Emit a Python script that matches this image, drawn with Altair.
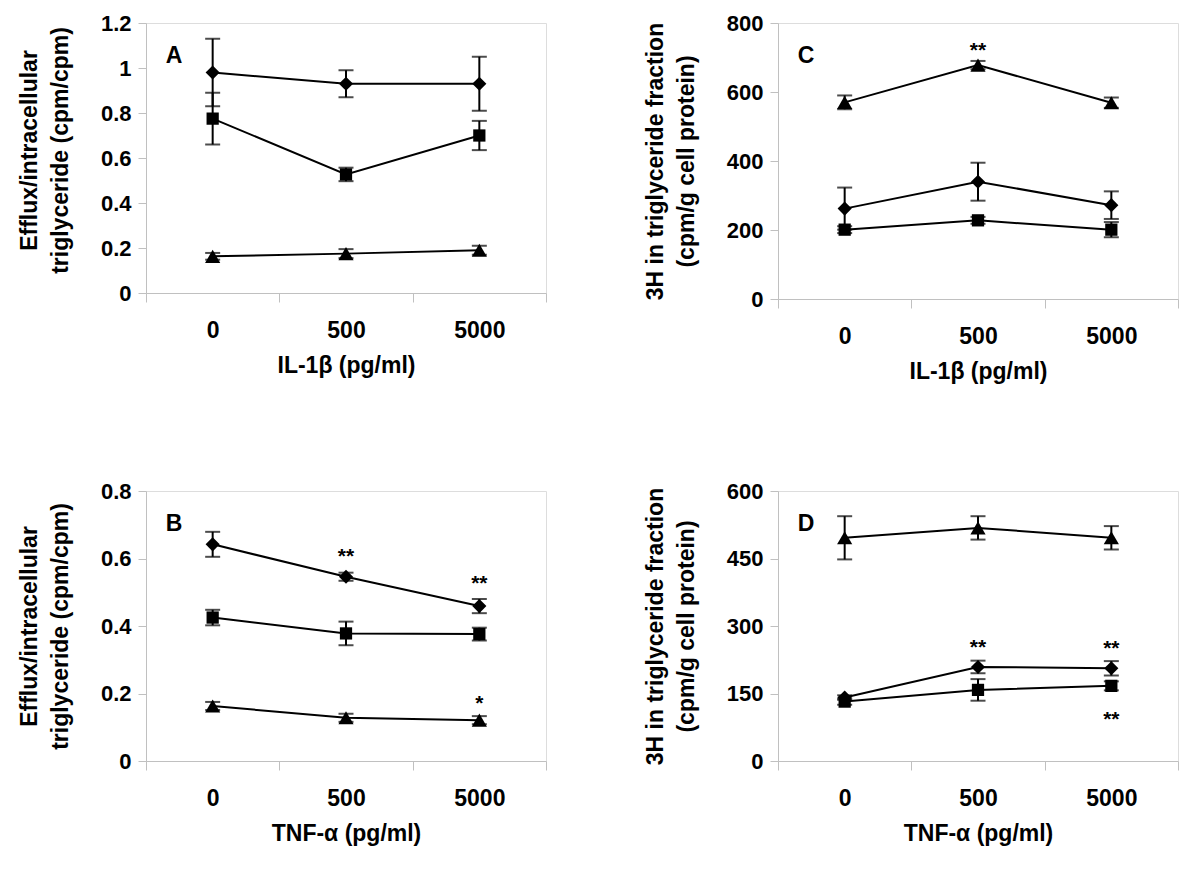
import altair as alt
import pandas as pd

doses = ["0", "500", "5000"]
series = ["diamond", "square", "triangle"]

# Panel A: IL-1beta, efflux / intracellular triglyceride
a_diamond = [0.98, 0.93, 0.93]
a_diamond_se = [0.15, 0.06, 0.12]
a_square = [0.775, 0.527, 0.70]
a_square_se = [0.115, 0.03, 0.065]
a_triangle = [0.163, 0.175, 0.19]
a_triangle_se = [0.015, 0.02, 0.02]

# Panel C: IL-1beta, 3H in triglyceride fraction
c_diamond = [262, 340, 272]
c_diamond_se = [61, 55, 40]
c_square = [201, 228, 201]
c_square_se = [10, 10, 22]
c_triangle = [570, 678, 569]
c_triangle_se = [20, 12, 15]

# Panel B: TNF-alpha, efflux / intracellular triglyceride
b_diamond = [0.642, 0.546, 0.459]
b_diamond_se = [0.037, 0.012, 0.021]
b_square = [0.425, 0.378, 0.376]
b_square_se = [0.023, 0.035, 0.019]
b_triangle = [0.163, 0.128, 0.121]
b_triangle_se = [0.012, 0.012, 0.012]

# Panel D: TNF-alpha, 3H in triglyceride fraction
d_diamond = [141, 209, 206]
d_diamond_se = [5, 14, 16]
d_square = [132, 158, 167]
d_square_se = [7, 24, 10]
d_triangle = [496, 518, 496]
d_triangle_se = [48, 26, 26]

# significance marks
c_ann_dose = ["500"]
c_ann_y = [734]
c_ann_text = ["**"]
b_ann_dose = ["500", "5000", "5000"]
b_ann_y = [0.62, 0.538, 0.185]
b_ann_text = ["**", "**", "*"]
d_ann_dose = ["500", "5000", "5000"]
d_ann_y = [262, 260, 102]
d_ann_text = ["**", "**", "**"]

title_eff = ["Efflux/intracellular", "triglyceride (cpm/cpm)"]
title_3h = ["3H in triglyceride fraction", "(cpm/g cell protein)"]
title_il = "IL-1β (pg/ml)"
title_tnf = "TNF-α (pg/ml)"

FONT = "Liberation Sans"
GRAY = "#c0c0c0"


def make_df(d, dse, s, sse, t, tse):
    rows = []
    for name, m, e in (("diamond", d, dse), ("square", s, sse), ("triangle", t, tse)):
        for dose, v, err in zip(doses, m, e):
            rows.append({"dose": dose, "series": name, "mean": v,
                         "lo": v - err, "hi": v + err})
    return pd.DataFrame(rows)


def panel(df, ann, letter, ymax, yvals, ytitle, xtitle, width, height, ytp,
          title_y=None, title_x=None):
    xscale = alt.Scale(type="band", domain=doses, paddingInner=0, paddingOuter=0)
    xaxis = alt.Axis(title=xtitle, labelAngle=0, tickBand="extent", grid=False,
                     domainColor=GRAY, tickColor=GRAY, tickSize=9,
                     labelFontSize=23, labelFontWeight="bold", labelColor="black",
                     labelPadding=17, titleFontSize=23, titleFontWeight="bold",
                     titleColor="black", titlePadding=12)
    yscale = alt.Scale(domain=[0, ymax], nice=False, zero=True)
    yargs = dict(values=yvals, format="~f", title=ytitle, grid=False,
                 domainColor=GRAY, tickColor=GRAY, tickSize=8,
                 labelFontSize=22, labelFontWeight="bold", labelColor="black",
                 labelPadding=7, titleFontSize=23, titleFontWeight="bold",
                 titleColor="black", titleLineHeight=31, titlePadding=ytp)
    if title_y is not None:
        yargs["titleY"] = title_y
    if title_x is not None:
        yargs["titleX"] = title_x
    yaxis = alt.Axis(**yargs)

    def X():
        return alt.X("dose:N", sort=doses, scale=xscale, axis=xaxis)

    def Y(field):
        return alt.Y(field, type="quantitative", scale=yscale, axis=yaxis)

    base = alt.Chart(df)
    lines = base.mark_line(color="black", strokeWidth=2).encode(
        x=X(), y=Y("mean"), detail="series:N")
    bars = base.mark_rule(color="black", strokeWidth=2).encode(
        x=X(), y=Y("lo"), y2="hi:Q")
    cap_lo = base.mark_tick(color="black", thickness=2, size=15).encode(x=X(), y=Y("lo"))
    cap_hi = base.mark_tick(color="black", thickness=2, size=15).encode(x=X(), y=Y("hi"))
    pts = base.mark_point(filled=True, opacity=1, color="black").encode(
        x=X(), y=Y("mean"),
        shape=alt.Shape("series:N", scale=alt.Scale(type="ordinal", domain=series,
                        range=["diamond", "square", "triangle-up"]), legend=None),
        size=alt.Size("series:N", scale=alt.Scale(type="ordinal", domain=series,
                      range=[200, 150, 230]), legend=None))
    layers = [lines, bars, cap_lo, cap_hi, pts]
    if ann is not None:
        ann_df = pd.DataFrame({"dose": ann[0], "y": ann[1], "t": ann[2]})
        layers.append(alt.Chart(ann_df).mark_text(
            fontSize=21, fontWeight="bold", baseline="middle", dy=5, color="black").encode(
            x=X(), y=Y("y"), text="t:N"))
    lab = alt.Chart(pd.DataFrame({"t": [letter]})).mark_text(
        fontSize=23, fontWeight="bold", baseline="middle", align="center", color="black").encode(
        x=alt.value(28), y=alt.value(33), text="t:N")
    layers.append(lab)
    return alt.layer(*layers).properties(width=width, height=height)


A = panel(make_df(a_diamond, a_diamond_se, a_square, a_square_se, a_triangle, a_triangle_se),
          None, "A", 1.2, [0, 0.2, 0.4, 0.6, 0.8, 1, 1.2], title_eff, title_il, 400, 270, 28,
          title_y=127)
C = panel(make_df(c_diamond, c_diamond_se, c_square, c_square_se, c_triangle, c_triangle_se),
          (c_ann_dose, c_ann_y, c_ann_text), "C", 800, [0, 200, 400, 600, 800],
          title_3h, title_il, 400, 276, 24, title_x=-111)
B = panel(make_df(b_diamond, b_diamond_se, b_square, b_square_se, b_triangle, b_triangle_se),
          (b_ann_dose, b_ann_y, b_ann_text), "B", 0.8, [0, 0.2, 0.4, 0.6, 0.8],
          title_eff, title_tnf, 400, 270, 28)
D = panel(make_df(d_diamond, d_diamond_se, d_square, d_square_se, d_triangle, d_triangle_se),
          (d_ann_dose, d_ann_y, d_ann_text), "D", 600, [0, 150, 300, 450, 600],
          title_3h, title_tnf, 400, 270, 24, title_x=-111)

chart = alt.concat(A, C, B, D, columns=2, spacing={"row": 192, "column": 232},
                   bounds="flush").properties(
    padding={"left": 9, "top": 3, "right": 5, "bottom": 5}).configure_view(
    stroke=GRAY, strokeWidth=1).configure(
    font=FONT, background="white").configure_axis(
    labelFont=FONT, titleFont=FONT).configure_text(font=FONT)

chart.save("out.html", embed_options={"renderer": "svg", "actions": False})
